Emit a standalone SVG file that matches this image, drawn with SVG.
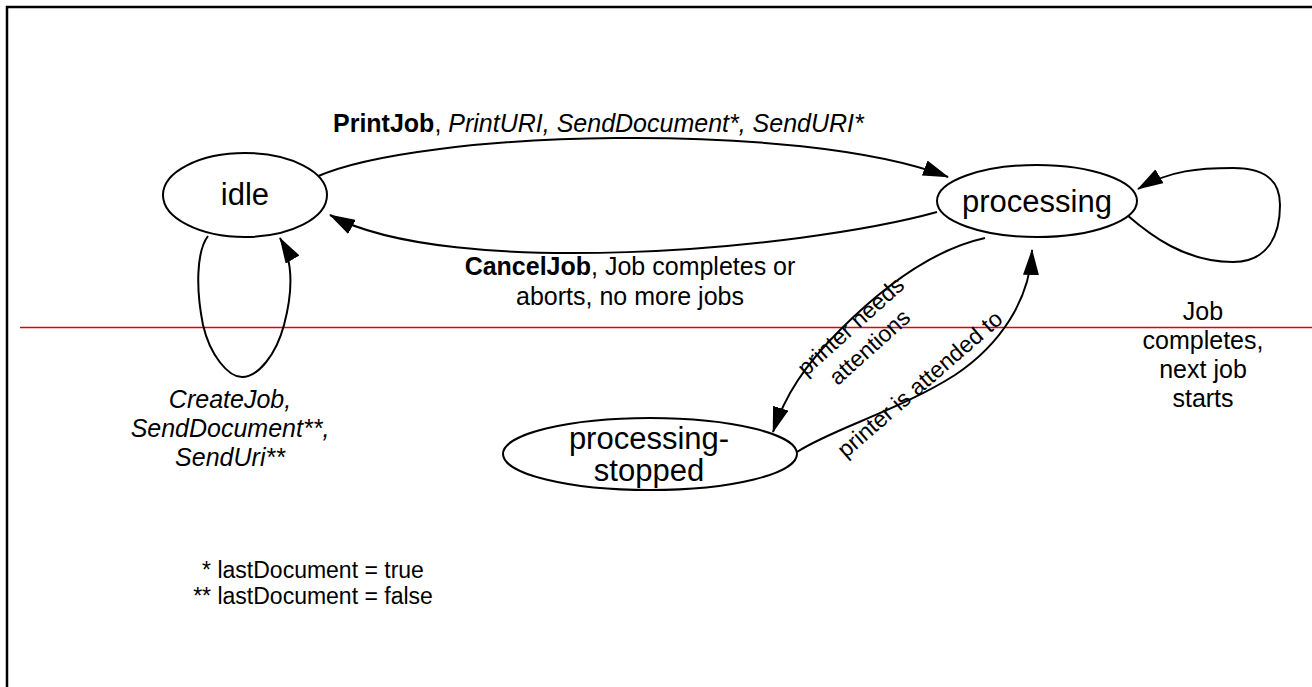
<svg xmlns="http://www.w3.org/2000/svg" width="1312" height="687" viewBox="0 0 1312 687">
  <defs>
    <marker id="arrow" viewBox="0 0 26 16" refX="25" refY="8" markerWidth="26" markerHeight="16" markerUnits="userSpaceOnUse" orient="auto">
      <path d="M0,0 L26,8 L0,16 z" fill="#000"/>
    </marker>
    <style>
      .state { fill: #fff; stroke: #000; stroke-width: 2; }
      .edge { fill: none; stroke: #000; stroke-width: 2; marker-end: url(#arrow); }
      .lbl { font-family: "Liberation Sans", Arial, sans-serif; fill: #000; }
      .node-text { font-size: 31px; text-anchor: middle; }
      .edge-text { font-size: 25px; }
      .mid { text-anchor: middle; }
      .b { font-weight: bold; }
      .i { font-style: italic; }
    </style>
  </defs>

  <rect width="1312" height="687" fill="#fff"/>

  <!-- page frame -->
  <path d="M7,690 V7 H1320" fill="none" stroke="#000" stroke-width="2.5"/>

  <!-- divider -->
  <line x1="20" y1="327.5" x2="1312" y2="327.5" stroke="#e00000" stroke-width="1.5"/>

  <g id="connectors">
    <!-- idle -> processing -->
    <path class="edge" d="M316,177 C420,130 800,120 948,177"/>
    <!-- processing -> idle -->
    <path class="edge" d="M937,212 C800,250 450,280 330,215"/>
    <!-- idle self loop -->
    <path class="edge" d="M208,236 C196,252 196,290 203,325 C210,355 228,377 242,377 C258,377 276,355 284,325 C292,295 294,262 280,238"/>
    <!-- processing self loop -->
    <path class="edge" d="M1127,215 C1150,235 1185,262 1233,262 C1268,262 1280,235 1280,205 C1280,180 1265,168 1233,168 C1200,168 1170,170 1138,189"/>
    <!-- processing -> processing-stopped -->
    <path class="edge" d="M985,238 C930,250 880,290 840,330 C805,365 785,395 773,432"/>
    <!-- processing-stopped -> processing -->
    <path class="edge" d="M797,452 C830,430 900,410 955,375 C1000,345 1030,300 1032,250"/>

    <text class="lbl edge-text" x="333" y="132"><tspan class="b">PrintJob</tspan>, <tspan class="i">PrintURI, SendDocument*, SendURI*</tspan></text>

    <text class="lbl edge-text mid" x="630" y="275"><tspan class="b">CancelJob</tspan>, Job completes or</text>
    <text class="lbl edge-text mid" x="630" y="305">aborts, no more jobs</text>

    <g class="lbl edge-text i mid">
      <text x="230" y="408">CreateJob,</text>
      <text x="230" y="437">SendDocument**,</text>
      <text x="230" y="466">SendUri**</text>
    </g>

    <g class="lbl edge-text mid">
      <text x="1203" y="320">Job</text>
      <text x="1203" y="349">completes,</text>
      <text x="1203" y="378">next job</text>
      <text x="1203" y="407">starts</text>
    </g>

    <g class="lbl mid" font-size="23" transform="translate(856,332) rotate(-42)">
      <text x="0" y="0">printer needs</text>
      <text x="0" y="28">attentions</text>
    </g>

    <text class="lbl mid" font-size="23" transform="translate(925,390) rotate(-41)" x="0" y="0">printer is attended to</text>
  </g>

  <g id="idle">
    <ellipse class="state" cx="245" cy="195" rx="82" ry="42"/>
    <text class="lbl node-text" x="245" y="205">idle</text>
  </g>

  <g id="processing">
    <ellipse class="state" cx="1037" cy="201" rx="100" ry="36"/>
    <text class="lbl node-text" x="1037" y="212">processing</text>
  </g>

  <g id="processing-stopped">
    <ellipse class="state" cx="650" cy="454" rx="147" ry="36"/>
    <text class="lbl node-text" x="649" y="449">processing-</text>
    <text class="lbl node-text" x="649" y="481">stopped</text>
  </g>

  <g id="notes" class="lbl mid" font-size="23">
    <text x="313" y="578">* lastDocument = true</text>
    <text x="313" y="604">** lastDocument = false</text>
  </g>
</svg>
